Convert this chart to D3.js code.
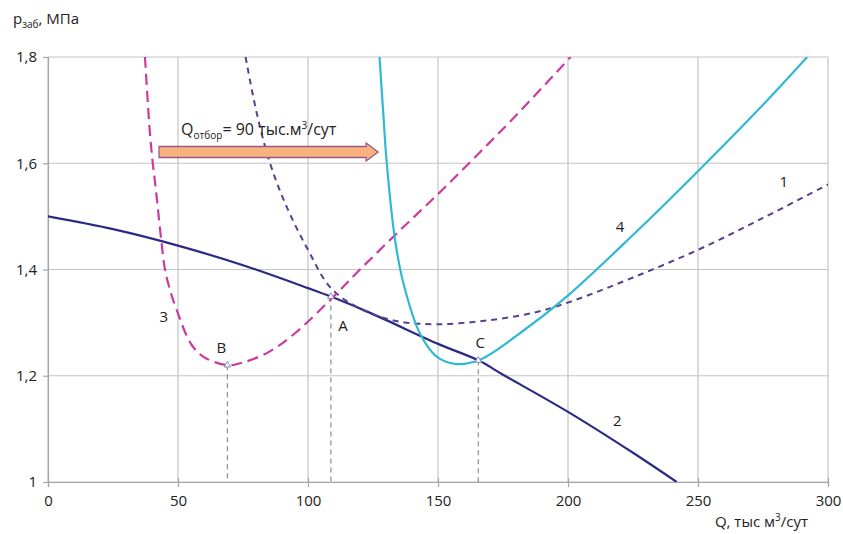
<!DOCTYPE html>
<html>
<head>
<meta charset="utf-8">
<script src="https://cdn.jsdelivr.net/npm/d3@7"></script>
<style>
  body { margin: 0; background: #fff; }
  svg text { font-family: "Open Sans", "Noto Sans", sans-serif; fill: #222; }
</style>
</head>
<body>
<svg id="chart"></svg>
<script>
// curve 1 - dashed purple
const q1 = [76, 80.3, 85.4, 91.8, 100, 109, 121, 134, 149.5, 168.7, 188, 203, 225, 250, 275, 300];
const p1 = [1.8, 1.694, 1.6, 1.518, 1.437, 1.364, 1.324, 1.303, 1.297, 1.304, 1.32, 1.343, 1.385, 1.437, 1.497, 1.56];
// curve 2 - solid navy
const q2 = [0, 25, 50, 75, 100, 108.8, 125, 150, 165.5, 175, 200, 225, 241.8];
const p2 = [1.5, 1.476, 1.445, 1.408, 1.365, 1.349, 1.316, 1.26, 1.229, 1.202, 1.132, 1.055, 1.0];
// curve 3 - dashed magenta
const q3 = [37.3, 39.2, 40.3, 41.5, 43.7, 45, 47, 49.5, 55, 60, 69, 75, 85, 95, 109, 120, 135, 150, 165, 180, 201];
const p3 = [1.8, 1.657, 1.6, 1.55, 1.449, 1.4, 1.36, 1.324, 1.26, 1.235, 1.22, 1.225, 1.245, 1.28, 1.345, 1.40, 1.472, 1.542, 1.615, 1.69, 1.8];
// curve 4 - solid cyan
const q4 = [127.5, 129, 130.3, 133.5, 136.7, 143, 149.5, 157.2, 166, 181.5, 199.5, 225, 250, 275, 292];
const p4 = [1.8, 1.69, 1.6, 1.455, 1.374, 1.28, 1.236, 1.222, 1.23, 1.28, 1.349, 1.465, 1.585, 1.71, 1.8];

// operating points A, B, C
const ptNames = ["B", "A", "C"];
const ptQ = [69, 108.8, 165.5];
const ptP = [1.22, 1.349, 1.229];

const xTicks = [0, 50, 100, 150, 200, 250, 300];
const yTicks = [1, 1.2, 1.4, 1.6, 1.8];

const width = 843, height = 534;
const margin = {top: 57, right: 15, bottom: 52, left: 48};
const w = 828 - margin.left, h = 482 - margin.top;

const svg = d3.select("#chart").attr("width", width).attr("height", height);
const g = svg.append("g").attr("transform", `translate(${margin.left},${margin.top})`);

const x = d3.scaleLinear().domain([0, 300]).range([0, w]);
const y = d3.scaleLinear().domain([1, 1.8]).range([h, 0]);

// grid
g.append("g").selectAll("line").data(xTicks).join("line")
  .attr("x1", d => x(d)).attr("x2", d => x(d)).attr("y1", 0).attr("y2", h)
  .attr("stroke", "#c4c4c4").attr("stroke-width", 1.2);
g.append("g").selectAll("line").data(yTicks).join("line")
  .attr("x1", 0).attr("x2", w).attr("y1", d => y(d)).attr("y2", d => y(d))
  .attr("stroke", "#c4c4c4").attr("stroke-width", 1.2);

// axes
const fmt = d => d3.format(".1f")(d).replace(".", ",").replace(/,0$/, "");
const xAxis = g.append("g").attr("transform", `translate(0,${h})`)
  .call(d3.axisBottom(x).tickValues(xTicks).tickSize(5).tickPadding(8));
const yAxis = g.append("g")
  .call(d3.axisLeft(y).tickValues(yTicks).tickFormat(fmt).tickSize(5).tickPadding(6));
[xAxis, yAxis].forEach(a => {
  a.select(".domain").attr("stroke", "#a6a6a6").attr("stroke-width", 1.2);
  a.selectAll(".tick line").attr("stroke", "#a6a6a6").attr("stroke-width", 1.2);
  a.selectAll("text").style("font-size", "15px").attr("fill", "#222");
});
xAxis.selectAll(".tick line").attr("y1", -4).attr("y2", 5);

// clip
svg.append("defs").append("clipPath").attr("id", "clip")
  .append("rect").attr("x", 0).attr("y", 0).attr("width", w).attr("height", h);

// guide lines from points
g.append("g").selectAll("line").data(ptQ).join("line")
  .attr("x1", d => x(d)).attr("x2", d => x(d))
  .attr("y1", (d, i) => y(ptP[i])).attr("y2", h)
  .attr("stroke", "#8c8c8c").attr("stroke-width", 1.2).attr("stroke-dasharray", "5,4");

const line = d3.line().x(d => x(d[0])).y(d => y(d[1])).curve(d3.curveCatmullRom.alpha(0.5));
const curves = [
  {q: q2, p: p2, color: "#2b2a86", width: 2.2, dash: null},
  {q: q1, p: p1, color: "#5a3e8c", width: 2, dash: "6,5"},
  {q: q3, p: p3, color: "#cc3aa0", width: 2.2, dash: "11,6"},
  {q: q4, p: p4, color: "#30b8d4", width: 2.2, dash: null}
];
const cg = g.append("g").attr("clip-path", "url(#clip)");
curves.forEach(c => {
  cg.append("path").datum(c.q.map((d, i) => [d, c.p[i]]))
    .attr("d", line).attr("fill", "none")
    .attr("stroke", c.color).attr("stroke-width", c.width)
    .attr("stroke-dasharray", c.dash);
});

// point markers
g.append("g").selectAll("path").data(ptQ).join("path")
  .attr("transform", (d, i) => `translate(${x(d)},${y(ptP[i])})`)
  .attr("d", d3.symbol(d3.symbolTriangle, 18)())
  .attr("fill", "#fff").attr("stroke", "#7f8fb0").attr("stroke-width", 1);

// point labels
const ptOffset = [[-6, -12], [12, 34], [2, -12]];
g.append("g").selectAll("text").data(ptNames).join("text")
  .attr("x", (d, i) => x(ptQ[i]) + ptOffset[i][0])
  .attr("y", (d, i) => y(ptP[i]) + ptOffset[i][1])
  .attr("text-anchor", "middle").style("font-size", "15px").text(d => d);

// curve number labels
const curveLabels = [["1", 283, 1.555], ["2", 219, 1.105], ["3", 44.5, 1.302], ["4", 220, 1.47]];
g.append("g").selectAll("text").data(curveLabels).join("text")
  .attr("x", d => x(d[1])).attr("y", d => y(d[2]))
  .attr("text-anchor", "middle").style("font-size", "15px").text(d => d[0]);

// arrow Q отбор
const arrowQ = [42.7, 127];
const ay = 152 - margin.top, aw = 5.5, hw = 9, hl = 12;
const ax0 = x(arrowQ[0]), ax1 = x(arrowQ[1]);
g.append("path")
  .attr("d", `M${ax0},${ay - aw} L${ax1 - hl},${ay - aw} L${ax1 - hl},${ay - hw} L${ax1},${ay} L${ax1 - hl},${ay + hw} L${ax1 - hl},${ay + aw} L${ax0},${ay + aw} Z`)
  .attr("fill", "#f7b27e").attr("stroke", "#9a5a86").attr("stroke-width", 1.3);
const at = g.append("text").attr("x", x(51.2)).attr("y", 135 - margin.top).style("font-size", "16px");
at.append("tspan").text("Q");
at.append("tspan").attr("dy", 4).style("font-size", "10px").text("отбор");
at.append("tspan").attr("dy", -4).text("= 90 тыс.м");
at.append("tspan").attr("dy", -6).style("font-size", "10px").text("3");
at.append("tspan").attr("dy", 6).text("/сут");

// axis titles
const yt = svg.append("text").attr("x", 13).attr("y", 24).style("font-size", "15px");
yt.append("tspan").text("p");
yt.append("tspan").attr("dy", 4).style("font-size", "10px").text("заб");
yt.append("tspan").attr("dy", -4).text(", МПа");

const xt = svg.append("text").attr("x", 808).attr("y", 527).attr("text-anchor", "end").style("font-size", "15px");
xt.append("tspan").text("Q, тыс м");
xt.append("tspan").attr("dy", -6).style("font-size", "10px").text("3");
xt.append("tspan").attr("dy", 6).text("/сут");
</script>
</body>
</html>
